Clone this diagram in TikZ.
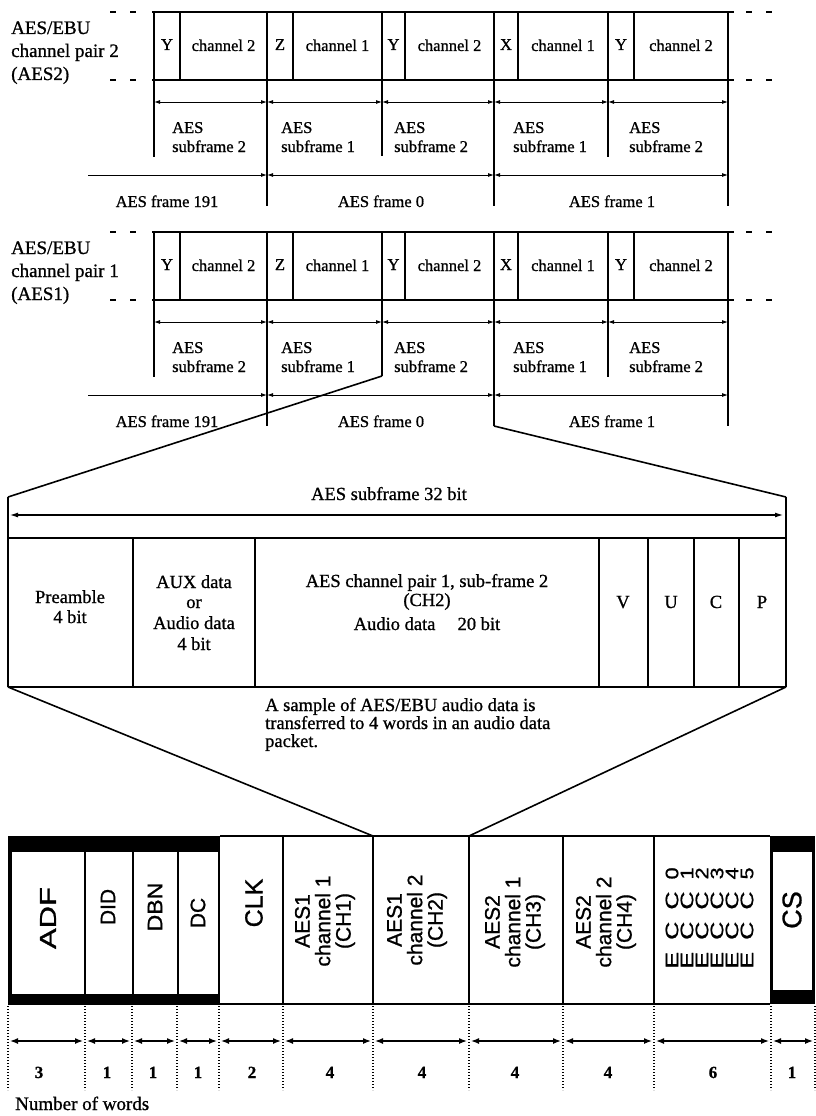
\documentclass[tikz,border=0pt]{standalone}
\usepackage{fontspec}
\usepackage{graphicx}
\setmainfont{Liberation Serif}[FakeBold=0.9]
\newfontfamily\sansf{Liberation Sans}[FakeBold=0.9]
\usetikzlibrary{arrows.meta}
\newcommand{\myfs}[2]{\fontsize{#1}{#2}\selectfont}
\begin{document}
\begin{tikzpicture}[x=1pt,y=-1pt,
  sigline/.style={line width=2.2pt},
  divline/.style={line width=1.1pt},
  dimarrow/.style={line width=0.9pt,{Latex[length=6pt,width=4pt]}-{Latex[length=6pt,width=4pt]}},
  dimright/.style={line width=0.9pt,-{Latex[length=6pt,width=4pt]}},
  dashends/.style={line width=2.4pt,dash pattern=on 6pt off 14pt},
  txt/.style={inner sep=0pt,anchor=base},
  lblA/.style={txt,font=\myfs{16.5}{18}},
  lblB/.style={txt,font=\myfs{18.5}{20}},
  lblC/.style={txt,font=\myfs{19}{22}},
  zoomline/.style={line width=1.6pt},
  dotv/.style={line width=1.2pt,dash pattern=on 1.4pt off 1.6pt},
  pk/.style={inner sep=0pt,rotate=90,align=center},
  chtxt/.style={pk,font=\sansf\myfs{21}{20.5}},
  numlbl/.style={txt,font=\myfs{17}{19}\bfseries},
]
\useasboundingbox (0,0) rectangle (816,1116);
\fill[white] (0,0) rectangle (816,1116);

% ---------------- the two AES/EBU rows ----------------
\foreach \dy/\n in {0/2,220/1}{
\begin{scope}[shift={(0,\dy)},name prefix=row\n-]
  \coordinate (tl) at (152,12); \coordinate (tr) at (734,12);
  \coordinate (bl) at (152,80); \coordinate (br) at (734,80);
  \draw[sigline] (tl) -- (tr);
  \draw[sigline] (bl) -- (br);
  \draw[dashends] (110,12) -- (137,12);
  \draw[dashends] (110,80) -- (137,80);
  \draw[dashends] (746,12) -- (773,12);
  \draw[dashends] (746,80) -- (773,80);
  \foreach \x in {154,180,267,293,382,405,494,518,608,634,728}
    \draw[divline] (\x,12) -- (\x,80);
  \foreach \a/\b/\e/\p/\c in {154/180/267/Y/2, 267/293/382/Z/1, 382/405/494/Y/2, 494/518/608/X/1, 608/634/728/Y/2}{
    \node[lblA] (pre\a) at ({(\a+\b)/2},50) {\p};
    \node[lblA] (ch\a) at ({(\b+\e)/2},51) {channel \c};
  }
  \foreach \x/\len in {154/157,267/206,382/156,494/206,608/157,728/206}
    \draw[divline] (\x,80) -- (\x,\len);
  \foreach \a/\b in {154/267,267/382,382/494,494/608,608/728}
    \draw[dimarrow] (\a,102) -- (\b,102);
  \foreach \a/\o/\s in {154/18/2,267/14/1,382/12/2,494/19/1,608/21/2}{
    \node[lblA,anchor=base west] (sfa\a) at (\a+\o,133) {AES};
    \node[lblA,anchor=base west] (sfb\a) at (\a+\o,152) {subframe \s};
  }
  \draw[dimright] (88,175) -- (267,175);
  \draw[dimarrow] (267,175) -- (494,175);
  \draw[dimarrow] (494,175) -- (728,175);
  \node[lblA] (f191) at (167,207) {AES frame 191};
  \node[lblA] (f0) at (381,207) {AES frame 0};
  \node[lblA] (f1) at (612,207) {AES frame 1};
  \node[lblC,anchor=base west] (ra) at (11,34) {AES/EBU};
  \node[lblC,anchor=base west] (rb) at (11,57) {channel pair \n};
  \node[lblC,anchor=base west] (rc) at (11,80) {(AES\n)};
\end{scope}
}

% ---------------- zoom into the subframe ----------------
\coordinate (sfL) at (382,376);
\coordinate (frR) at (494,426);
\coordinate (boxTL) at (8,497);
\coordinate (boxTR) at (786,497);
\coordinate (boxBL) at (8,687);
\coordinate (boxBR) at (786,687);
\draw[zoomline] (sfL) -- (boxTL);
\draw[zoomline] (frR) -- (boxTR);
\draw[line width=1.5pt] (boxTL) -- (boxBL);
\draw[line width=1.5pt] (boxTR) -- (boxBR);
\draw[line width=2.5pt] (8,538) -- (786,538);
\draw[line width=2.5pt] (boxBL) -- (boxBR);
\foreach \x in {133,255,599,648,694,739}
  \draw[line width=1.3pt] (\x,538) -- (\x,687);
\draw[line width=1.1pt,{Latex[length=8pt,width=5pt]}-{Latex[length=8pt,width=5pt]}] (10,515) -- (783,515);
\node[lblB] (sf32) at (389,500) {AES subframe 32 bit};
\node[lblB] (pre1) at (70,603) {Preamble};
\node[lblB] (pre2) at (70,623) {4 bit};
\node[lblB] (aux1) at (194,588) {AUX data};
\node[lblB] (aux2) at (194,608) {or};
\node[lblB] (aux3) at (194,629) {Audio data};
\node[lblB] (aux4) at (194,650) {4 bit};
\node[lblB] (aes1) at (427,587) {AES channel pair 1, sub-frame 2};
\node[lblB] (aes2) at (427,606) {(CH2)};
\node[lblB] (aes3) at (427,630) {Audio data\hspace{1.2em}20 bit};
\node[lblB] (bV) at (623,608) {V};
\node[lblB] (bU) at (671,608) {U};
\node[lblB] (bC) at (716,608) {C};
\node[lblB] (bP) at (762,608) {P};

% ---------------- converging lines and note ----------------
\coordinate (pkA) at (373,836);
\coordinate (pkB) at (469,836);
\draw[zoomline] (boxBL) -- (pkA);
\draw[zoomline] (boxBR) -- (pkB);
\node[lblB,anchor=base west] (n1) at (265,711) {A sample of AES/EBU audio data is};
\node[lblB,anchor=base west] (n2) at (265,729) {transferred to 4 words in an audio data};
\node[lblB,anchor=base west] (n3) at (265,747) {packet.};

% ---------------- audio data packet ----------------
\fill (8,836) rectangle (220,1005);
\fill[white] (12,852) rectangle (83.5,994);
\fill[white] (86,852) rectangle (131.5,994);
\fill[white] (134,852) rectangle (176.5,994);
\fill[white] (179,852) rectangle (217.5,994);
\fill (770,836) rectangle (815,1004);
\fill[white] (773,852) rectangle (812,990);
\draw[line width=2pt] (220,836) -- (770,836);
\draw[line width=2pt] (220,1004) -- (770,1004);
\foreach \x in {283,373,469,563,654}
  \draw[line width=1.5pt] (\x,836) -- (\x,1004);

\node[pk,font=\sansf\myfs{23}{24}] (adf) at (48,918) {\scalebox{1.35}[1]{ADF}};
\node[pk,font=\sansf\myfs{21}{22}] (did) at (108,907) {DID};
\node[pk,font=\sansf\myfs{21}{22}] (dbn) at (155,907) {\scalebox{1.1}[1]{DBN}};
\node[pk,font=\sansf\myfs{21}{22}] (dc) at (198,913) {DC};
\node[pk,font=\sansf\myfs{25}{26}] (clk) at (254,903) {CLK};
\node[chtxt] (ch1) at (325,921) {AES1\\channel 1\\(CH1)};
\node[chtxt] (ch2) at (417,920) {AES1\\channel 2\\(CH2)};
\node[chtxt] (ch3) at (515,922) {AES2\\channel 1\\(CH3)};
\node[chtxt] (ch4) at (606,922) {AES2\\channel 2\\(CH4)};
\foreach \i in {0,...,5}
  \node[pk,font=\sansf\myfs{18}{20}] (ecc\i) at (672+15*\i,918) {\scalebox{1.4}[1]{E}\hspace{12pt}\scalebox{1.4}[1]{C}\hspace{12pt}\scalebox{1.4}[1]{C}\hspace{12pt}\scalebox{1.2}[1]{\i}};
\node[pk,font=\sansf\myfs{27}{28}] (cs) at (792,910) {CS};

% ---------------- word counts ----------------
\foreach \x in {8,85,132,177,219,283,373,469,563,654,771,815}
  \draw[dotv] (\x,1006) -- (\x,1090);
\foreach \a/\b in {8/85,85/132,132/177,177/219,219/283,283/373,373/469,469/563,563/654,654/771,771/815}
  \draw[line width=1.4pt,{Latex[length=8pt,width=6pt]}-{Latex[length=8pt,width=6pt]}] (\a+2,1041) -- (\b-2,1041);
\foreach \x/\v in {39/3,107/1,153/1,198/1,252/2,330/4,422/4,515/4,608/4,713/6,792/1}
  \node[numlbl] at (\x,1078) {\v};
\node[lblC,anchor=base west] (nw) at (15,1110) {Number of words};
\end{tikzpicture}
\end{document}
